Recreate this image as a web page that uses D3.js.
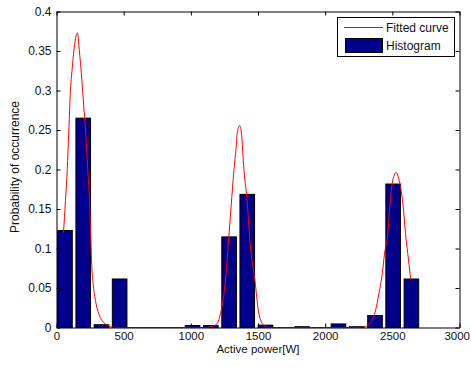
<!DOCTYPE html>
<html><head><meta charset="utf-8">
<script src="https://cdn.jsdelivr.net/npm/d3@7"></script>
<style>
body{margin:0;background:#fff}
svg{display:block}
text{font-family:"Liberation Sans",Arial,Helvetica,sans-serif;fill:#111}
</style>
</head><body>
<svg id="c" width="471" height="367"></svg>
<script>
// Histogram bins (bin centres in W) and probability of occurrence
const binCenters = [63, 199, 335, 470, 606, 742, 878, 1013, 1149, 1285, 1420, 1556, 1692, 1828, 1963, 2099, 2235, 2371, 2506, 2642];
const binProb    = [0.1228, 0.265, 0.0035, 0.0614, 0, 0, 0, 0.0025, 0.0025, 0.1147, 0.1685, 0.003, 0, 0.001, 0, 0.0045, 0.001, 0.0152, 0.1816, 0.0614];
const binSpan = 136;

// Fitted curve
const curveX = [52, 67, 80, 92, 104, 118, 129, 142, 156, 169, 182, 194, 205, 216, 233, 246, 255, 262, 275, 290, 310, 330, 360, 400, 450,
  600, 800, 1000, 1100,
  1150, 1196, 1221, 1240, 1258, 1283, 1305, 1315, 1328, 1338, 1345, 1363, 1377, 1390, 1402, 1414, 1444, 1477, 1506, 1541, 1580,
  1700, 1900, 2100, 2263,
  2313, 2338, 2375, 2400, 2425, 2442, 2466, 2481, 2499, 2515, 2529, 2543, 2556, 2581, 2598, 2615, 2636];
const curveY = [0.120, 0.161, 0.200, 0.250, 0.300, 0.330, 0.350, 0.366, 0.373, 0.352, 0.328, 0.301, 0.275, 0.250, 0.200, 0.160, 0.115, 0.080, 0.052, 0.034, 0.020, 0.011, 0.005, 0.001, 0,
  0, 0, 0, 0,
  0.001, 0.005, 0.018, 0.035, 0.060, 0.115, 0.165, 0.187, 0.212, 0.229, 0.246, 0.2557, 0.246, 0.212, 0.187, 0.170, 0.102, 0.060, 0.018, 0.003, 0,
  0, 0, 0, 0,
  0.0025, 0.0068, 0.0216, 0.0428, 0.068, 0.0935, 0.119, 0.1528, 0.1824, 0.193, 0.1964, 0.191, 0.1824, 0.1528, 0.119, 0.0935, 0.062];

const xTickValues = [0, 500, 1000, 1500, 2000, 2500, 3000];
const xTickLabels = ["0", "500", "1000", "1500", "2000", "2500", "3000"];
const yTickValues = [0, 0.05, 0.1, 0.15, 0.2, 0.25, 0.3, 0.35, 0.4];
const yTickLabels = ["0", "0.05", "0.1", "0.15", "0.2", "0.25", "0.3", "0.35", "0.4"];
const legendLabels = ["Fitted curve", "Histogram"];
const xTitle = "Active power[W]";
const yTitle = "Probability of occurrence";

const barColor = "#00008c";
const curveColor = "#ff0000";

const W = 471;
const svg = d3.select("#c");
const L = 56.5, R = 459.5, T = 11.5, B = 327.5;
const x = d3.scaleLinear().domain([0, 3000]).range([L, R]);
const y = d3.scaleLinear().domain([0, 0.4]).range([B, T]);

// bars
const bw = binSpan * 0.8;
svg.append("g").selectAll("rect").data(binCenters.map((c, i) => ({c, v: binProb[i]})))
  .join("rect")
  .attr("x", d => x(d.c - bw / 2))
  .attr("width", d => x(d.c + bw / 2) - x(d.c - bw / 2))
  .attr("y", d => y(d.v))
  .attr("height", d => y(0) - y(d.v))
  .attr("fill", barColor)
  .attr("stroke", "#000")
  .attr("stroke-width", 1);

// fitted curve
const pts = curveX.map((v, i) => [v, curveY[i]]);
svg.append("path")
  .attr("d", d3.line().x(d => x(d[0])).y(d => y(d[1])).curve(d3.curveMonotoneX)(pts))
  .attr("fill", "none")
  .attr("stroke", curveColor)
  .attr("stroke-width", 1);

// axes
const tickFmtX = d => xTickLabels[xTickValues.indexOf(d)];
const tickFmtY = d => yTickLabels[yTickValues.indexOf(d)];
const gB = svg.append("g").attr("transform", `translate(0,${B})`)
  .call(d3.axisBottom(x).tickValues(xTickValues).tickFormat(tickFmtX).tickSizeInner(-4).tickSizeOuter(0).tickPadding(4));
const gT = svg.append("g").attr("transform", `translate(0,${T})`)
  .call(d3.axisTop(x).tickValues(xTickValues).tickFormat(() => "").tickSizeInner(-4).tickSizeOuter(0));
const gL = svg.append("g").attr("transform", `translate(${L},0)`)
  .call(d3.axisLeft(y).tickValues(yTickValues).tickFormat(tickFmtY).tickSizeInner(-4).tickSizeOuter(0).tickPadding(5));
const gR = svg.append("g").attr("transform", `translate(${R},0)`)
  .call(d3.axisRight(y).tickValues(yTickValues).tickFormat(() => "").tickSizeInner(-4).tickSizeOuter(0));
[gB, gT, gL, gR].forEach(g => {
  g.selectAll(".domain").attr("stroke", "#000");
  g.selectAll(".tick line").attr("stroke", "#000");
  g.selectAll("text").attr("fill", "#111")
    .style("font-family", '"Liberation Sans",Arial,sans-serif');
});
gL.selectAll("text").attr("font-size", 12);
gB.selectAll("text").attr("font-size", 11.5);
// keep the last x label inside the window
gB.selectAll(".tick text").each(function() {
  const bb = this.getBBox();
  const tx = +this.parentNode.getAttribute("transform").match(/translate\(([-\d.]+)/)[1];
  const over = tx + bb.x + bb.width - (W - 1);
  if (over > 0) d3.select(this).attr("x", -over);
});

// axis titles
svg.append("text").attr("x", (L + R) / 2).attr("y", 353).attr("text-anchor", "middle")
  .attr("font-size", 11.5).text(xTitle);
svg.append("text").attr("transform", `translate(18.5,167) rotate(-90)`).attr("text-anchor", "middle")
  .attr("font-size", 12).text(yTitle);

// legend
const lg = svg.append("g");
lg.append("rect").attr("x", 337.5).attr("y", 17.5).attr("width", 117).attr("height", 39)
  .attr("fill", "#fff").attr("stroke", "#000");
lg.append("line").attr("x1", 344).attr("x2", 383).attr("y1", 27.5).attr("y2", 27.5)
  .attr("stroke", curveColor).attr("stroke-width", 1);
lg.append("text").attr("x", 386).attr("y", 32).attr("font-size", 12).text(legendLabels[0]);
lg.append("rect").attr("x", 345.5).attr("y", 38.5).attr("width", 37).attr("height", 14)
  .attr("fill", barColor).attr("stroke", "#000");
lg.append("text").attr("x", 386).attr("y", 50).attr("font-size", 12).text(legendLabels[1]);
</script>
</body></html>
